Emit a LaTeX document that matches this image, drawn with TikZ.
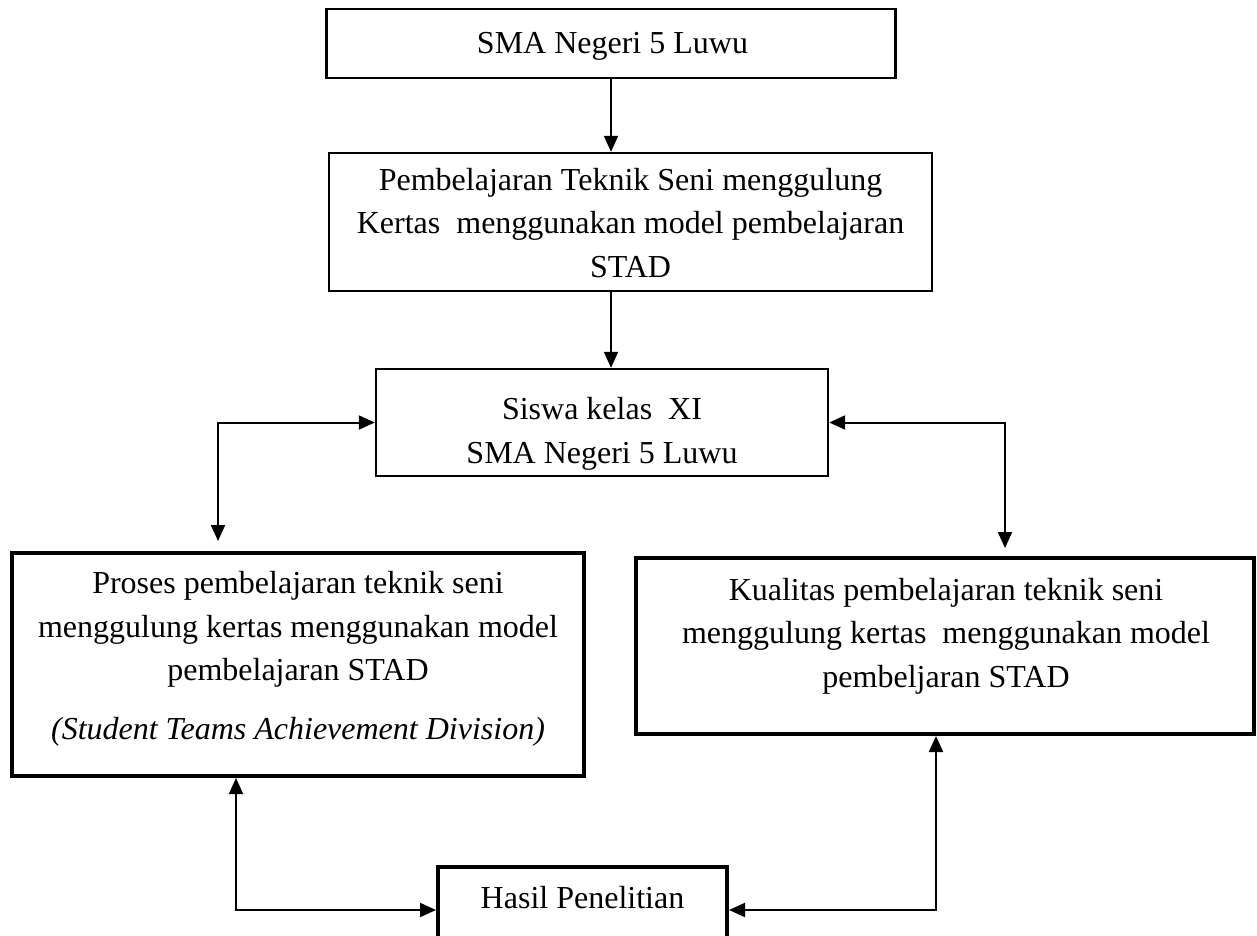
\documentclass[tikz,border=0pt]{standalone}
\usepackage{fontspec}
\setmainfont{Liberation Serif}
\usetikzlibrary{arrows.meta}

\begin{document}
\begin{tikzpicture}[x=1pt, y=-1pt,
    kotak/.style={draw, line width=2.4pt, inner sep=0pt},
    kotaktebal/.style={kotak, line width=4pt},
    teks/.style={align=center, inner sep=0pt, font=\fontsize{32}{43.5}\selectfont},
    panah/.style={line width=2pt, -{Triangle[length=16pt,width=14pt]}},
    duapanah/.style={line width=2pt, {Triangle[length=16pt,width=14pt]}-{Triangle[length=16pt,width=14pt]}}]

    \useasboundingbox (0,0) rectangle (1257,935);

    % kotak
    \node[kotak, minimum width=569pt, minimum height=69pt] (sekolah) at (611,43.5) {};
    \node[kotak, minimum width=603pt, minimum height=138pt] (pembelajaran) at (630.5,222) {};
    \node[kotak, minimum width=452pt, minimum height=107pt] (siswa) at (602,422.5) {};
    \node[kotaktebal, minimum width=572pt, minimum height=223pt] (proses) at (298,664.5) {};
    \node[kotaktebal, minimum width=618pt, minimum height=176pt] (kualitas) at (945,646) {};
    \node[kotaktebal, minimum width=289pt, minimum height=86pt] (hasil) at (582.5,910) {};

    % teks
    \node[teks] (sekolah-t) at (612.5,46) {SMA Negeri 5 Luwu};
    \node[teks] (pembelajaran-t) at (630.5,223) {Pembelajaran Teknik Seni menggulung\\Kertas\ \ menggunakan model pembelajaran\\STAD};
    \node[teks] (siswa-t) at (602,434) {Siswa kelas\ \ XI\\SMA Negeri 5 Luwu};
    \node[teks] (proses-t) at (298,659) {Proses pembelajaran teknik seni\\menggulung kertas menggunakan model\\pembelajaran STAD\\[15pt]\textit{(Student Teams Achievement Division)}};
    \node[teks] (kualitas-t) at (946,636) {Kualitas pembelajaran teknik seni\\menggulung kertas\ \ menggunakan model\\pembeljaran STAD};
    \node[teks] (hasil-t) at (582.5,898) {Hasil Penelitian};

    % panah
    \draw[panah] (sekolah.south) -- (sekolah.south |- pembelajaran.north);
    \draw[panah] (sekolah.south |- pembelajaran.south) -- (sekolah.south |- siswa.north);
    \draw[duapanah, shorten >=10pt] (siswa.west) -| ([xshift=-80pt]proses.north);
    \draw[duapanah, shorten >=8pt] (siswa.east) -| ([xshift=60pt]kualitas.north);
    \draw[duapanah] (hasil.west) -| ([xshift=-62pt]proses.south);
    \draw[duapanah] (hasil.east) -| ([xshift=-9pt]kualitas.south);
\end{tikzpicture}
\end{document}
